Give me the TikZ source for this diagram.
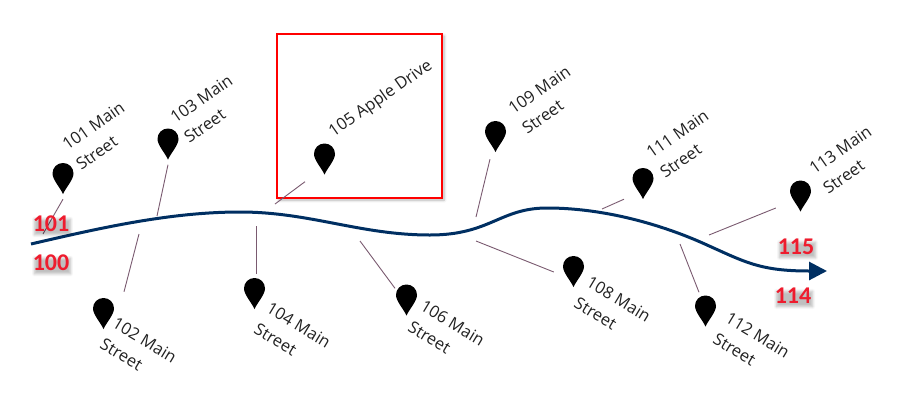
\documentclass[tikz,border=0pt]{standalone}
\usepackage{fontspec}
\setmainfont{Carlito}
\newfontfamily\addrfont{Open Sans}
\usepackage{xcolor}
\usetikzlibrary{arrows.meta,calc,shadows.blur}
\definecolor{roadblue}{HTML}{002F62}
\definecolor{leadplum}{HTML}{7A5A70}
\definecolor{numred}{HTML}{EE1C2E}
\definecolor{addrink}{HTML}{222222}

\begin{document}
\begin{tikzpicture}[
  x=1pt, y=-1pt,
  pinmark/.style={inner sep=0pt, minimum width=21pt, minimum height=31pt,
    path picture={\fill[black, shift={(path picture bounding box.center)}]
      (0,15.5) .. controls (-3,9) and (-10.5,1) .. (-10.5,-5)
      .. controls (-10.5,-11) and (-6,-15.5) .. (0,-15.5)
      .. controls (6,-15.5) and (10.5,-11) .. (10.5,-5)
      .. controls (10.5,1) and (3,9) .. (0,15.5) -- cycle;}},
  addr/.style={font=\addrfont\fontsize{16.5}{24}\selectfont, text=addrink, align=left,
               anchor=west, inner sep=0pt},
  addrup/.style={addr, rotate=35},
  addrdown/.style={addr, rotate=-31},
  leader/.style={draw=leadplum, line width=0.9pt},
  road/.style={draw=roadblue, line width=3pt,
               -{Triangle[length=18pt, width=18pt]}},
  num/.style={font=\fontsize{24}{24}\selectfont\bfseries, text=numred, inner sep=0pt,
              blur shadow={shadow xshift=1.5pt, shadow yshift=-3pt, shadow blur steps=6,
                           shadow blur radius=2.5pt, shadow opacity=25}},
  callout/.style={draw=red, line width=1.8pt, fill=white, minimum width=165pt,
                  minimum height=164pt, inner sep=0pt,
                  blur shadow={shadow xshift=2pt, shadow yshift=-2pt, shadow blur steps=6,
                               shadow blur radius=3pt, shadow opacity=30}},
]
\useasboundingbox (0,0) rectangle (900,413);

% --- Highlight box ---
\node[callout] (focus) at (359.5,116) {};

% --- Main road ---
\draw[road] (31,244) .. controls (100,228) and (170,212) .. (240,212)
  .. controls (310,212) and (360,235) .. (430,235)
  .. controls (490,235) and (500,208) .. (547,208)
  .. controls (610,208) and (670,228) .. (707,245)
  .. controls (745,262) and (760,271) .. (809,271) -- (827,271);

% --- Road side ends of the leaders ---
\coordinate (r101) at (43,234);
\coordinate (r102) at (139,234);
\coordinate (r103) at (157,216);
\coordinate (r104) at (256,226);
\coordinate (r105) at (275,204);
\coordinate (r106) at (360,241);
\coordinate (r108) at (476,241);
\coordinate (r109) at (476,217);
\coordinate (r111) at (602,209);
\coordinate (r112) at (680,244);
\coordinate (r113) at (709,235);

% --- Pins ---
\node[pinmark] (p101) at (63,178.5) {};
\node[pinmark] (p102) at (103.5,313.5) {};
\node[pinmark] (p103) at (168,144) {};
\node[pinmark] (p104) at (254.5,293.5) {};
\node[pinmark] (p105) at (324.5,159) {};
\node[pinmark] (p106) at (406.5,300) {};
\node[pinmark] (p108) at (573.5,271.5) {};
\node[pinmark] (p109) at (495.5,136.5) {};
\node[pinmark] (p111) at (643,183.5) {};
\node[pinmark] (p112) at (705.5,311) {};
\node[pinmark] (p113) at (800.5,196) {};

% --- Leaders ---
\draw[leader] ($(p101.south)+(0,5)$) -- (r101);
\draw[leader] ($(p102.north)+(20.5,-6)$) -- (r102);
\draw[leader] ($(p103.south)+(0,5)$) -- (r103);
\draw[leader] ($(p104.north)+(1.5,-4)$) -- (r104);
\draw[leader] ($(p105.south)+(-19.5,7)$) -- (r105);
\draw[leader] ($(p106.north)+(-11.5,4)$) -- (r106);
\draw[leader] ($(p108.west)+(-9,0.5)$) -- (r108);
\draw[leader] ($(p109.south)+(-5.5,7)$) -- (r109);
\draw[leader] ($(p111.south)+(-19,0)$) -- (r111);
\draw[leader] ($(p112.north)+(-6.5,-3)$) -- (r112);
\draw[leader] ($(p113.west)+(-14,12)$) -- (r113);

% --- Addresses ---
\node[addrup] (t101) at (71,156) {101 Main\\Street};
\node[addrup] (t103) at (179,129) {103 Main\\Street};
\node[addrup] (t105) at (331,134) {105 Apple Drive};
\node[addrup] (t109) at (517,120) {109 Main\\Street};
\node[addrup] (t111) at (655,164) {111 Main\\Street};
\node[addrup] (t113) at (818,180) {113 Main\\Street};
\node[addrdown] (t102) at (108,332) {102 Main\\Street};
\node[addrdown] (t104) at (262,317) {104 Main\\Street};
\node[addrdown] (t106) at (416,315) {106 Main\\Street};
\node[addrdown] (t108) at (582,291) {108 Main\\Street};
\node[addrdown] (t112) at (721,327) {112 Main\\Street};

% --- Red numbers ---
\node[num] (n101) at (51,224) {101};
\node[num] (n100) at (51,263) {100};
\node[num] (n115) at (796,247) {115};
\node[num] (n114) at (793,296) {114};

\end{tikzpicture}
\end{document}
